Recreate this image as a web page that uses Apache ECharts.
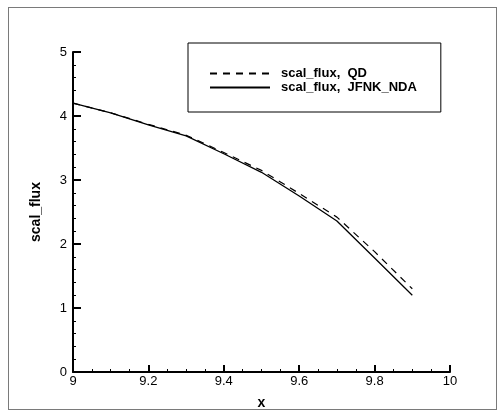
<!DOCTYPE html>
<html>
<head>
<meta charset="utf-8">
<script src="https://cdn.jsdelivr.net/npm/echarts@6/dist/echarts.min.js"></script>
<style>
  html, body { margin: 0; padding: 0; background: #fff; }
  #wrap { position: relative; width: 501px; height: 418px; }
  #chart { width: 501px; height: 418px; }
  #frame {
    position: absolute; left: 8px; top: 7px; width: 487px; height: 401px;
    border: 1px solid #7a7a7a; pointer-events: none;
  }
</style>
</head>
<body>
<div id="wrap">
  <div id="chart"></div>
  <div id="frame"></div>
</div>
<script>
// values
let xs = [9, 9.1, 9.2, 9.3, 9.4, 9.5, 9.6, 9.7, 9.8, 9.9];
let fluxQD = [4.2, 4.05, 3.87, 3.7, 3.43, 3.15, 2.79, 2.42, 1.88, 1.3];
let fluxJFNK = [4.2, 4.05, 3.86, 3.69, 3.41, 3.12, 2.75, 2.36, 1.78, 1.2];
let seriesNames = ["scal_flux,  QD", "scal_flux,  JFNK_NDA"];

function pairs(ys) {
  let out = [];
  for (let i = 0; i < xs.length; i++) {
    out.push([xs[i], ys[i]]);
  }
  return out;
}

var myChart = echarts.init(document.getElementById("chart"));

let font = "Liberation Sans, Arial, Helvetica, sans-serif";

var option = {
  animation: false,
  legend: {
    orient: "vertical",
    left: 188,
    top: 43,
    padding: [24, 24, 18, 21],
    borderColor: "#000",
    borderWidth: 1,
    itemWidth: 60,
    itemHeight: 14,
    itemGap: 1,
    itemStyle: { opacity: 0 },
    textStyle: { color: "#000", fontFamily: font, fontSize: 13, fontWeight: "bold", padding: [0, 0, 0, 6] },
    data: seriesNames,
  },
  grid: { left: 73, right: 51, top: 52, bottom: 46 },
  xAxis: {
    type: "value",
    min: 9,
    max: 10,
    interval: 0.2,
    axisLine: { show: true, lineStyle: { color: "#000", width: 2 } },
    axisTick: { show: true, inside: true, length: 7, lineStyle: { color: "#000", width: 2 } },
    minorTick: { show: true, splitNumber: 4 },
    splitLine: { show: false },
    axisLabel: { color: "#000", fontFamily: font, fontSize: 13, margin: 3 },
    name: "x",
    nameLocation: "middle",
    nameGap: 24,
    nameTextStyle: { color: "#000", fontFamily: font, fontSize: 14, fontWeight: "bold" },
  },
  yAxis: {
    type: "value",
    min: 0,
    max: 5,
    interval: 1,
    axisLine: { show: true, lineStyle: { color: "#000", width: 2 } },
    axisTick: { show: true, inside: true, length: 8, lineStyle: { color: "#000", width: 2 } },
    minorTick: { show: true, splitNumber: 5 },
    splitLine: { show: false },
    axisLabel: { color: "#000", fontFamily: font, fontSize: 13, margin: 6 },
    name: "scal_flux",
    nameLocation: "middle",
    nameGap: 30,
    nameTextStyle: { color: "#000", fontFamily: font, fontSize: 14, fontWeight: "bold" },
  },
  series: [
    {
      name: seriesNames[0],
      type: "line",
      data: pairs(fluxQD),
      symbol: "none",
      lineStyle: { color: "#000", width: 1.2, type: [7, 6] },
      itemStyle: { color: "#000" },
    },
    {
      name: seriesNames[1],
      type: "line",
      data: pairs(fluxJFNK),
      symbol: "none",
      lineStyle: { color: "#000", width: 1.3, type: "solid" },
      itemStyle: { color: "#000" },
    },
  ],
};

option && myChart.setOption(option);
</script>
</body>
</html>
